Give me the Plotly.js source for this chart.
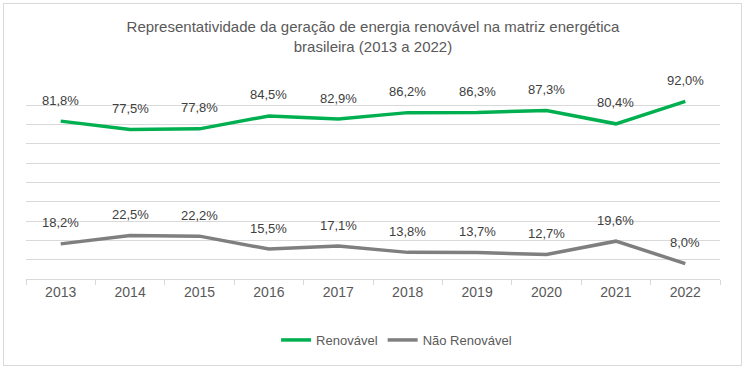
<!DOCTYPE html>
<html>
<head>
<meta charset="utf-8">
<script src="https://cdn.plot.ly/plotly-3.0.1.min.js"></script>
<style>
  body { margin: 0; background: #fff; }
  #wrap { position: relative; width: 746px; height: 370px; }
  #chart { width: 746px; height: 370px; }
  #frame { position: absolute; left: 3px; top: 3px; width: 737px; height: 361px; border: 1px solid #D9D9D9; pointer-events: none; }
</style>
</head>
<body>
<div id="wrap"><div id="chart"></div><div id="frame"></div></div>
<script>
const years = ['2013','2014','2015','2016','2017','2018','2019','2020','2021','2022'];
const renovavel = [81.8, 77.5, 77.8, 84.5, 82.9, 86.2, 86.3, 87.3, 80.4, 92.0];
const naoRenovavel = [18.2, 22.5, 22.2, 15.5, 17.1, 13.8, 13.7, 12.7, 19.6, 8.0];
const seriesNames = ['Renovável', 'Não Renovável'];
const seriesColors = ['#00B050', '#7F7F7F'];

const fmt = v => v.toFixed(1).replace('.', ',') + '%';
const labelFont = { family: 'Liberation Sans, Arial, sans-serif', size: 13, color: '#404040' };

const traces = [renovavel, naoRenovavel].map((vals, i) => ({
  x: years, y: vals, type: 'scatter', mode: 'lines', name: seriesNames[i],
  line: { color: seriesColors[i], width: 3.5 }, hoverinfo: 'skip'
}));

const annotations = [];
[renovavel, naoRenovavel].forEach(vals => {
  vals.forEach((v, j) => {
    annotations.push({ x: j, y: v, xref: 'x', yref: 'y', text: fmt(v), showarrow: false,
      yshift: 21, font: labelFont });
  });
});

const layout = {
  width: 746, height: 370,
  margin: { l: 26, r: 26, t: 86, b: 91 },
  paper_bgcolor: '#fff', plot_bgcolor: '#fff',
  title: { text: 'Representatividade da geração de energia renovável na matriz energética<br>brasileira (2013 a 2022)',
    font: { family: 'Liberation Sans, Arial, sans-serif', size: 15, color: '#595959' },
    x: 0.5, xanchor: 'center', y: 0.9135, yanchor: 'middle' },
  xaxis: { type: 'category', categoryorder: 'array', categoryarray: years, range: [-0.5, years.length - 0.5],
    tickson: 'boundaries', ticks: 'outside', ticklen: 5, tickcolor: '#D9D9D9',
    showline: true, linecolor: '#D9D9D9', linewidth: 1, showgrid: false, zeroline: false,
    tickfont: { family: 'Liberation Sans, Arial, sans-serif', size: 14, color: '#595959' } },
  yaxis: { range: [0, 100], dtick: 10, showticklabels: false, gridcolor: '#D9D9D9', gridwidth: 1,
    zeroline: false, showline: false },
  showlegend: true,
  legend: { orientation: 'h', x: 0.534, xanchor: 'center', y: -0.316, yanchor: 'middle',
    font: { family: 'Liberation Sans, Arial, sans-serif', size: 13, color: '#595959' },
    itemwidth: 30, tracegroupgap: 0 },
  annotations: annotations
};

Plotly.newPlot('chart', traces, layout, { displayModeBar: false, staticPlot: true });
</script>
</body>
</html>
